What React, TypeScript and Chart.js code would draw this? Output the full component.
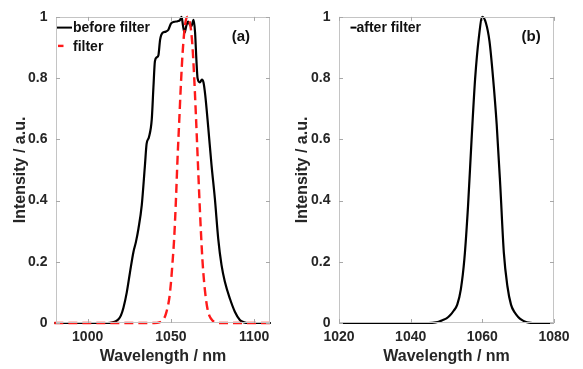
import React, { useEffect, useRef } from "react";
import { Chart, registerables } from "chart.js";

Chart.register(...registerables);

// ---- data ----
const beforeWl = [
  980, 1012, 1015, 1017, 1018.5, 1020, 1021.5, 1023.5, 1025.5, 1027.5, 1029, 1030.5, 1032.5,
  1034.4, 1035.4, 1036.8, 1038.5, 1039.5, 1040.4, 1041.5, 1042.5, 1043.5, 1045, 1047, 1048.5,
  1050, 1052, 1054, 1055.5, 1056.4, 1057.3, 1058.2, 1059.3, 1060.3, 1061.3, 1062.3, 1063.6,
  1064.5, 1065.3, 1066, 1067.4, 1068.6, 1069.6, 1070.6, 1072.4, 1074.4, 1076.4, 1078.4, 1080.4,
  1082.4, 1085.4, 1088.4, 1091.4, 1094, 1096, 1110,
];
const beforeInt = [
  0, 0, 0.002, 0.006, 0.012, 0.025, 0.05, 0.1, 0.168, 0.232, 0.265, 0.308, 0.385,
  0.515, 0.585, 0.607, 0.665, 0.77, 0.855, 0.868, 0.875, 0.925, 0.948, 0.952, 0.958,
  0.978, 0.984, 0.986, 0.99, 1.0, 0.97, 0.948, 0.972, 0.985, 0.975, 0.97, 0.99,
  0.95, 0.86, 0.8, 0.786, 0.795, 0.785, 0.745, 0.64, 0.515, 0.406, 0.276, 0.189,
  0.135, 0.08, 0.037, 0.01, 0.002, 0, 0,
];

const filterWl = [
  980, 1040, 1043, 1045, 1047, 1049, 1050, 1051, 1052, 1053, 1054, 1055, 1056, 1057, 1058,
  1059, 1060, 1061, 1062, 1063, 1064, 1065, 1066, 1067, 1068, 1069, 1070, 1071, 1072, 1073,
  1075, 1077, 1080, 1110,
];
const filterInt = [
  0, 0, 0.002, 0.008, 0.03, 0.08, 0.13, 0.2, 0.28, 0.4, 0.54, 0.66, 0.78, 0.88, 0.95,
  0.99, 1.0, 0.99, 0.96, 0.9, 0.8, 0.68, 0.55, 0.42, 0.3, 0.2, 0.13, 0.08, 0.045, 0.025,
  0.008, 0.002, 0, 0,
];

const afterWl = [
  1020, 1045, 1047, 1048, 1049, 1050, 1051, 1052, 1053, 1054, 1055, 1056, 1057, 1058, 1059,
  1060, 1061, 1062, 1063, 1064, 1065, 1066, 1067, 1068, 1069, 1070, 1071, 1072, 1073, 1074,
  1080,
];
const afterInt = [
  0, 0, 0.002, 0.005, 0.01, 0.015, 0.025, 0.04, 0.06, 0.11, 0.21, 0.38, 0.6, 0.8, 0.93,
  1.0, 0.98, 0.92, 0.8, 0.65, 0.45, 0.23, 0.12, 0.06, 0.035, 0.02, 0.01, 0.004, 0.001, 0,
  0,
];

const xTicksA = [1000, 1050, 1100];
const xTicksB = [1020, 1040, 1060, 1080];
const yTicks = [0, 0.2, 0.4, 0.6, 0.8, 1];

const FONT = "'Liberation Sans', Arial, Helvetica, sans-serif";
const TEXT = "#262626";
const BOX = "#c4c4c4";

const pts = (xs: number[], ys: number[]) => xs.map((x, i) => ({ x, y: ys[i] }));

const boxPlugin = {
  id: "matlabBox",
  afterDatasetsDraw(chart: any, _args: any, opts: any) {
    const { ctx, chartArea: a, scales } = chart;
    ctx.save();
    // box
    ctx.strokeStyle = BOX;
    ctx.lineWidth = 1;
    ctx.strokeRect(Math.round(a.left) + 0.5, Math.round(a.top) + 0.5,
      Math.round(a.right - a.left) - 1, Math.round(a.bottom - a.top) - 1);
    // inward ticks
    ctx.strokeStyle = "#a8a8a8";
    const tl = 4;
    ctx.beginPath();
    scales.x.ticks.forEach((t: any) => {
      const px = Math.round(scales.x.getPixelForValue(t.value)) + 0.5;
      ctx.moveTo(px, a.bottom); ctx.lineTo(px, a.bottom - tl);
      ctx.moveTo(px, a.top); ctx.lineTo(px, a.top + tl);
    });
    scales.y.ticks.forEach((t: any) => {
      const py = Math.round(scales.y.getPixelForValue(t.value)) + 0.5;
      ctx.moveTo(a.left, py); ctx.lineTo(a.left + tl, py);
      ctx.moveTo(a.right, py); ctx.lineTo(a.right - tl, py);
    });
    ctx.stroke();

    // legend
    ctx.font = `bold 14px ${FONT}`;
    ctx.textBaseline = "middle";
    ctx.textAlign = "left";
    (opts.items || []).forEach((it: any, i: number) => {
      const y = a.top + opts.legendTop + i * 18.3;
      ctx.strokeStyle = it.color;
      ctx.lineWidth = it.width;
      ctx.setLineDash([]);
      ctx.beginPath();
      ctx.moveTo(a.left + it.x0, y);
      ctx.lineTo(a.left + it.x1, y);
      ctx.stroke();
      ctx.fillStyle = "#111";
      ctx.fillText(it.text, a.left + opts.textX, y + 1);
    });
    // panel label
    ctx.font = `bold 15px ${FONT}`;
    ctx.fillStyle = "#111";
    ctx.fillText(opts.label, a.left + opts.labelX, a.top + 19.5);
    ctx.restore();
  },
};

function makeConfig(opts: {
  datasets: any[];
  xMin: number;
  xMax: number;
  xTicks: number[];
  yWidth: number;
  yTitlePad: number;
  padRight: number;
  legend: any;
}) {
  return {
    type: "line" as const,
    data: { datasets: opts.datasets },
    plugins: [boxPlugin],
    options: {
      animation: false,
      responsive: false,
      parsing: true,
      layout: { padding: { left: 0, right: opts.padRight, top: 16, bottom: 0 } },
      elements: { point: { radius: 0 } },
      plugins: {
        legend: { display: false },
        tooltip: { enabled: false },
        matlabBox: opts.legend,
      },
      scales: {
        x: {
          type: "linear",
          min: opts.xMin,
          max: opts.xMax,
          afterBuildTicks: (s: any) => { s.ticks = opts.xTicks.map((v) => ({ value: v })); },
          afterFit: (s: any) => { s.height = 46; },
          grid: { display: false, drawTicks: false },
          border: { display: false },
          ticks: {
            padding: 6,
            color: TEXT,
            font: { family: FONT, size: 14, weight: "bold" },
            maxRotation: 0,
            callback: (v: any) => String(v),
          },
          title: {
            display: true,
            text: "Wavelength / nm",
            color: TEXT,
            font: { family: FONT, size: 16, weight: "bold" },
            padding: { top: 0, bottom: 2.4 },
          },
        },
        y: {
          type: "linear",
          min: 0,
          max: 1,
          afterBuildTicks: (s: any) => { s.ticks = yTicks.map((v) => ({ value: v })); },
          afterFit: (s: any) => { s.width = opts.yWidth; },
          grid: { display: false, drawTicks: false },
          border: { display: false },
          ticks: {
            padding: 8.5,
            color: TEXT,
            font: { family: FONT, size: 14, weight: "bold" },
            callback: (v: any) => String(v),
          },
          title: {
            display: true,
            text: "Intensity / a.u.",
            color: TEXT,
            font: { family: FONT, size: 16, weight: "bold" },
            padding: { top: opts.yTitlePad, bottom: 0 },
          },
        },
      },
    },
  };
}

function Panel({ cfg, width, left }: { cfg: any; width: number; left: number }) {
  const ref = useRef<HTMLCanvasElement | null>(null);
  useEffect(() => {
    if (!ref.current) return;
    const chart = new Chart(ref.current, cfg);
    return () => chart.destroy();
  }, []);
  return (
    <canvas
      ref={ref}
      width={width}
      height={369}
      style={{ position: "absolute", left, top: 0, width, height: 369 }}
    />
  );
}

export default function App() {
  const cfgA = makeConfig({
    datasets: [
      {
        label: "filter",
        data: pts(filterWl, filterInt),
        borderColor: "#ff1a1a",
        borderWidth: 2.4,
        borderDash: [9, 5],
        cubicInterpolationMode: "monotone",
        fill: false,
        clip: 4,
        order: 0,
      },
      {
        label: "before filter",
        data: pts(beforeWl, beforeInt),
        borderColor: "#000000",
        borderWidth: 2.2,
        cubicInterpolationMode: "monotone",
        fill: false,
        clip: 4,
        order: 1,
      },
    ],
    xMin: 981,
    xMax: 1109.5,
    xTicks: xTicksA,
    yWidth: 56,
    yTitlePad: 11.4,
    padRight: 20,
    legend: {
      legendTop: 10.7,
      textX: 17,
      label: "(a)",
      labelX: 175.7,
      items: [
        { text: "before filter", color: "#000", width: 2, x0: 1, x1: 16 },
        { text: "filter", color: "#ff1a1a", width: 2.4, x0: 2, x1: 7.5 },
      ],
    },
  });
  const cfgB = makeConfig({
    datasets: [
      {
        label: "after filter",
        data: pts(afterWl, afterInt),
        borderColor: "#000000",
        borderWidth: 2.2,
        cubicInterpolationMode: "monotone",
        fill: false,
        clip: 4,
      },
    ],
    xMin: 1020,
    xMax: 1080,
    xTicks: xTicksB,
    yWidth: 49,
    yTitlePad: 3.4,
    padRight: 29,
    legend: {
      legendTop: 10.7,
      textX: 17.5,
      label: "(b)",
      labelX: 182.5,
      items: [{ text: "after filter", color: "#000", width: 2, x0: 11.5, x1: 17.5 }],
    },
  });
  return (
    <div style={{ position: "fixed", left: 0, top: 0, width: 583, height: 369, background: "#fff" }}>
      <Panel cfg={cfgA} width={290} left={0} />
      <Panel cfg={cfgB} width={293} left={290} />
    </div>
  );
}
